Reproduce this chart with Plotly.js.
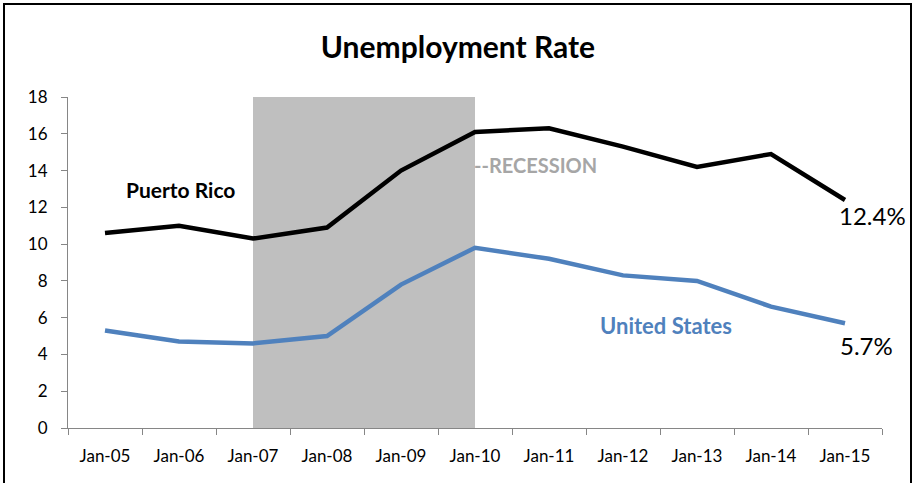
<!DOCTYPE html>
<html>
<head>
<meta charset="utf-8">
<script src="https://cdn.plot.ly/plotly-3.0.1.min.js"></script>
<style>
html,body{margin:0;padding:0;background:#fff;}
#chart{width:916px;height:483px;}
</style>
</head>
<body>
<div id="chart"></div>
<script>
const categories = ["Jan-05","Jan-06","Jan-07","Jan-08","Jan-09","Jan-10","Jan-11","Jan-12","Jan-13","Jan-14","Jan-15"];
const puertoRico = [10.6, 11.0, 10.3, 10.9, 14.0, 16.1, 16.3, 15.3, 14.2, 14.9, 12.4];
const unitedStates = [5.3, 4.7, 4.6, 5.0, 7.8, 9.8, 9.2, 8.3, 8.0, 6.6, 5.7];
const yTicks = [0,2,4,6,8,10,12,14,16,18];
const recessionStart = "Jan-07";
const recessionEnd = "Jan-10";

const FONT = "Lato, 'Open Sans', sans-serif";

const traces = [
  {x: categories, y: puertoRico, type: "scatter", mode: "lines", name: "Puerto Rico",
   line: {color: "#000000", width: 4.5}},
  {x: categories, y: unitedStates, type: "scatter", mode: "lines", name: "United States",
   line: {color: "#4F81BD", width: 4.5}}
];

const layout = {
  width: 916, height: 483,
  margin: {l: 68, r: 34, t: 97, b: 55},
  paper_bgcolor: "#ffffff", plot_bgcolor: "#ffffff",
  showlegend: false,
  font: {family: FONT, size: 17, color: "#000"},
  title: {text: "<b>Unemployment Rate</b>", font: {family: FONT, size: 30, color: "#000"},
          x: 0.5, xanchor: "center", y: 1 - 47/483, yanchor: "middle"},
  xaxis: {type: "category", categoryorder: "array", categoryarray: categories,
          range: [-0.5, 10.5], showgrid: false, zeroline: false,
          showline: true, linecolor: "#868686", linewidth: 1,
          ticks: "outside", tickson: "boundaries", ticklen: 6, tickcolor: "#868686",
          ticklabelstandoff: 13,
          tickfont: {family: FONT, size: 17, color: "#000"}, fixedrange: true},
  yaxis: {range: [0, 18], tickvals: yTicks, showgrid: false, zeroline: false,
          showline: true, linecolor: "#868686", linewidth: 1,
          ticks: "outside", ticklen: 6, tickcolor: "#868686",
          ticklabelstandoff: 10,
          tickfont: {family: FONT, size: 17, color: "#000"}, fixedrange: true},
  shapes: [
    {type: "rect", xref: "x", yref: "y", x0: recessionStart, x1: recessionEnd, y0: 0, y1: 18,
     fillcolor: "#BFBFBF", line: {width: 0}, layer: "below"},
    {type: "rect", xref: "paper", yref: "paper",
     x0: (4-68)/814, x1: (911-68)/814, y0: (428-490)/331, y1: (428-4)/331,
     line: {color: "#000", width: 2}, fillcolor: "rgba(0,0,0,0)"}
  ],
  annotations: [
    {xref: "paper", yref: "paper", x: (180-68)/814, y: (428-189)/331, text: "<b>Puerto Rico</b>",
     showarrow: false, font: {family: FONT, size: 21, color: "#000"}, xanchor: "center", yanchor: "middle"},
    {xref: "paper", yref: "paper", x: (666-68)/814, y: (428-325)/331, text: "<b>United States</b>",
     showarrow: false, font: {family: FONT, size: 22, color: "#4F81BD"}, xanchor: "center", yanchor: "middle"},
    {xref: "paper", yref: "paper", x: (472-68)/814, y: (428-165)/331, text: "<b>--RECESSION</b>",
     showarrow: false, font: {family: FONT, size: 20, color: "#A6A6A6"}, xanchor: "left", yanchor: "middle"},
    {xref: "paper", yref: "paper", x: (872-68)/814, y: (428-215)/331, text: "12.4%",
     showarrow: false, font: {family: FONT, size: 24, color: "#000"}, xanchor: "center", yanchor: "middle"},
    {xref: "paper", yref: "paper", x: (866-68)/814, y: (428-345)/331, text: "5.7%",
     showarrow: false, font: {family: FONT, size: 24, color: "#000"}, xanchor: "center", yanchor: "middle"}
  ]
};

Plotly.newPlot("chart", traces, layout, {displayModeBar: false, staticPlot: true});
</script>
</body>
</html>
